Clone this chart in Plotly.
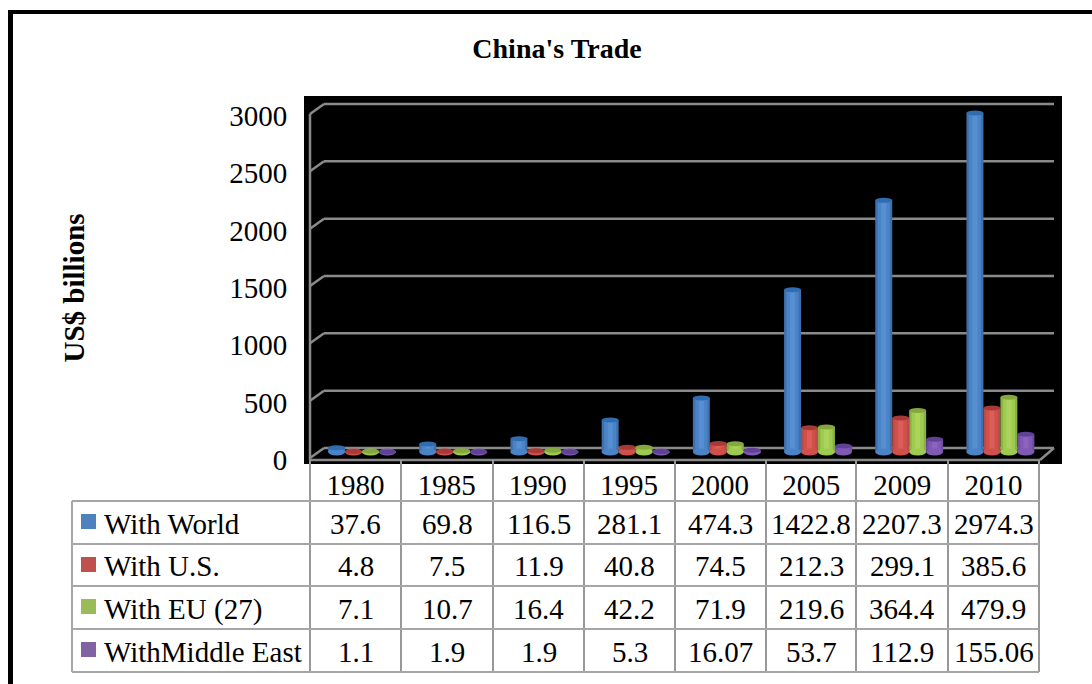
import plotly.graph_objects as go

W, H = 1092, 684
TITLE = "China's Trade"
Y_TITLE = "US$ billions"
YEARS = ["1980", "1985", "1990", "1995", "2000", "2005", "2009", "2010"]
SERIES_NAMES = ["With World", "With U.S.", "With EU (27)", "WithMiddle East"]
WORLD = [37.6, 69.8, 116.5, 281.1, 474.3, 1422.8, 2207.3, 2974.3]
US = [4.8, 7.5, 11.9, 40.8, 74.5, 212.3, 299.1, 385.6]
EU = [7.1, 10.7, 16.4, 42.2, 71.9, 219.6, 364.4, 479.9]
MIDDLE_EAST = [1.1, 1.9, 1.9, 5.3, 16.07, 53.7, 112.9, 155.06]
SERIES = [WORLD, US, EU, MIDDLE_EAST]
Y_TICKS = [0, 500, 1000, 1500, 2000, 2500, 3000]

SWATCH = ["#4f81bd", "#c0504d", "#9bbb59", "#8064a2"]
EDGE = ["#3f70ad", "#bd4a46", "#88b044", "#6f4fa6"]
BODY = ["#4a83c6", "#d0504c", "#9fca50", "#8059b4"]
SHINE = ["#5790d2", "#dc5e58", "#acd45c", "#8c64c0"]
TOP = ["#2f6cb0", "#a83a36", "#84a83e", "#5f4296"]
FONT = "Liberation Serif"
GREY = "#989898"
FS = 29


def px(x):
    return x / W


def py(y):
    return 1 - y / H


def line(x0, y0, x1, y1, color=GREY, width=2, layer="below"):
    return dict(type="line", xref="paper", yref="paper", x0=px(x0), x1=px(x1),
                y0=py(y0), y1=py(y1), layer=layer, line=dict(color=color, width=width))


shapes = []
# page frame and black chart panel
shapes.append(dict(type="rect", xref="paper", yref="paper", x0=px(304), x1=px(1062), y0=py(464), y1=py(96),
                   fillcolor="black", line_width=0, layer="below"))
shapes.append(line(10.5, 12, 10.5, H, "black", 5))
shapes.append(line(8, 12, W, 12, "black", 4))
# 3D walls and gridlines
GRID_TOP, GRID_STEP = 104, 57.33
for i in range(7):
    gy = GRID_TOP + i * GRID_STEP
    shapes.append(line(324, gy, 1054, gy, "#8a8a8a", 2.5))
    shapes.append(line(310, gy + 10, 324, gy, "#8a8a8a", 2.5))
shapes.append(line(310, 114, 310, 460, "#8a8a8a", 2.5))
shapes.append(line(310, 460, 1040, 460, "#8a8a8a", 2.5))
shapes.append(line(1040, 460, 1054, 448, "#8a8a8a", 2.5))

# data table grid
COL_X = [310, 401, 493, 584, 675, 766, 856, 948, 1039]
ROW_Y = [501, 544, 586, 629, 672]
for x in COL_X:
    shapes.append(line(x, 460, x, 672, GREY, 2, "above"))
for y in ROW_Y:
    shapes.append(line(72, y, 1039, y, "#a6a6a6", 2, "above"))
shapes.append(line(72, 501, 72, 672, "#a6a6a6", 2, "above"))
ROW_TEXT_Y = [524, 566, 609, 652]
SWATCH_Y = [521.5, 564.5, 606.5, 649.5]

annotations = []
for r, name in enumerate(SERIES_NAMES):
    shapes.append(dict(type="rect", xref="paper", yref="paper", x0=px(81), x1=px(96),
                       y0=py(SWATCH_Y[r] + 7.5), y1=py(SWATCH_Y[r] - 7.5),
                       fillcolor=SWATCH[r], line_width=0, layer="above"))
    annotations.append(dict(text=name, x=px(102), y=py(ROW_TEXT_Y[r]), xref="paper", yref="paper",
                            xanchor="left", yanchor="middle", showarrow=False,
                            font=dict(family=FONT, size=FS, color="black")))
    for c, v in enumerate(SERIES[r]):
        annotations.append(dict(text=str(v), x=px((COL_X[c] + COL_X[c + 1]) / 2), y=py(ROW_TEXT_Y[r]),
                                xref="paper", yref="paper", xanchor="center", yanchor="middle",
                                showarrow=False, font=dict(family=FONT, size=FS, color="black")))

SLOT = 0.186
fig = go.Figure()
for s, vals in enumerate(SERIES):
    off = (s - 1.5) * SLOT
    for frac, col in ((1.0, EDGE[s]), (0.72, BODY[s]), (0.3, SHINE[s])):
        w = SLOT * frac
        fig.add_trace(go.Bar(x=YEARS, y=vals, name=SERIES_NAMES[s], width=w, offset=off - w / 2,
                             marker=dict(color=col, line_width=0), showlegend=False, hoverinfo="skip"))
    for c, v in enumerate(vals):
        # rounded cylinder foot and cap, anchored to the data value
        shapes.append(dict(type="circle", xref="x", yref="y", xsizemode="pixel", ysizemode="pixel",
                           xanchor=c + off, yanchor=0, x0=-8.5, x1=8.5, y0=-3.5, y1=3.5,
                           fillcolor=BODY[s], line_width=0, layer="above"))
        shapes.append(dict(type="circle", xref="x", yref="y", xsizemode="pixel", ysizemode="pixel",
                           xanchor=c + off, yanchor=v, x0=-8.5, x1=8.5, y0=-2.5, y1=2.5,
                           fillcolor=TOP[s], line_width=0, layer="above"))

# second axis pair: carries the printed labels on the front plane and table columns
fig.add_trace(go.Scatter(x=YEARS[:1], y=[None], xaxis="x2", yaxis="y2", mode="markers",
                         showlegend=False, hoverinfo="skip"))

fig.update_layout(
    template="none",
    width=W, height=H, margin=dict(l=0, r=0, t=0, b=0, pad=0), autosize=False,
    paper_bgcolor="white", plot_bgcolor="rgba(0,0,0,0)", barmode="overlay", showlegend=False,
    title=dict(text=TITLE, x=557 / W, y=py(48), xref="paper", yref="paper", xanchor="center", yanchor="middle",
               automargin=False, font=dict(family=FONT, size=28, color="black", weight="bold")),
    xaxis=dict(domain=[px(316.4), px(1046)], type="category", range=[-0.5, 7.5], anchor="y", automargin=False,
               categoryorder="array", categoryarray=YEARS, showgrid=False, zeroline=False, showline=False,
               ticks="", showticklabels=False),
    xaxis2=dict(domain=[px(310), px(1039)], type="category", range=[-0.5, 7.5], anchor="free", position=py(465),
                automargin=False, categoryorder="array", categoryarray=YEARS, showgrid=False, zeroline=False,
                showline=False, ticks="", tickfont=dict(family=FONT, size=FS, color="black")),
    yaxis=dict(domain=[py(460), py(102)], range=[-70, 3070], showgrid=False, zeroline=False, automargin=False,
               showline=False, showticklabels=False, ticks=""),
    yaxis2=dict(domain=[py(460), py(116)], range=[0, 3000], anchor="free", position=px(294), automargin=False,
                tickvals=Y_TICKS, showgrid=False, zeroline=False, showline=False, ticks="outside", ticklen=1,
                tickcolor="rgba(0,0,0,0)", tickfont=dict(family=FONT, size=FS, color="black"),
                title=dict(text=Y_TITLE, standoff=135, font=dict(family=FONT, size=29, color="black", weight="bold"))),
    shapes=shapes, annotations=annotations,
)
fig.write_html("out.html", config=dict(displayModeBar=False),
               post_script="document.body.style.margin='0';document.body.style.overflow='hidden';")
